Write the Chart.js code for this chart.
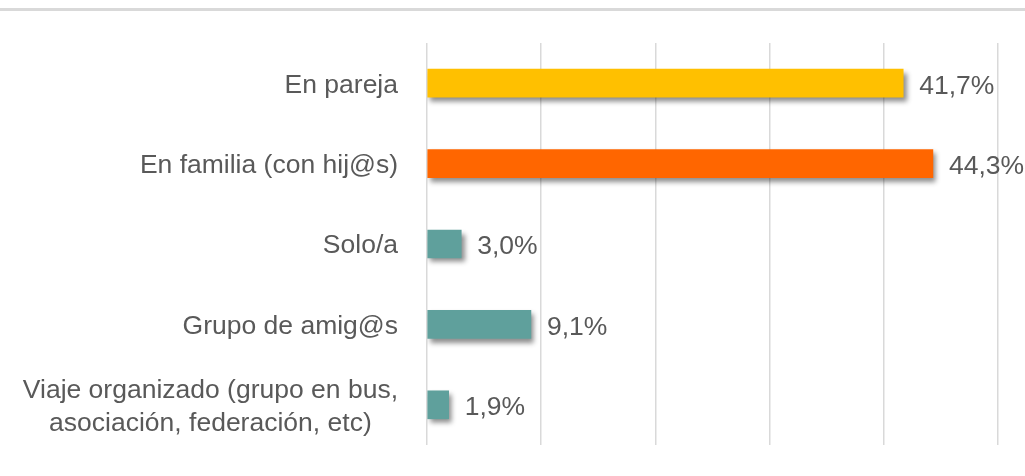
<!DOCTYPE html>
<html>
<head>
<meta charset="utf-8">
<script src="https://cdn.jsdelivr.net/npm/chart.js@4/dist/chart.umd.min.js"></script>
<style>
  html, body { margin: 0; padding: 0; background: #fff; }
  #wrap { width: 1025px; height: 476px; position: relative; }
</style>
</head>
<body>
<div id="wrap"><canvas id="chart" width="1025" height="476"></canvas></div>
<script>
// categories (multi-line labels as arrays)
const categories = [
  ['En pareja'],
  ['En familia (con hij@s)'],
  ['Solo/a'],
  ['Grupo de amig@s'],
  ['Viaje organizado (grupo en bus,', 'asociación, federación, etc)']
];
const values = [41.7, 44.3, 3.0, 9.1, 1.9];
const barColors = ['#FFC000', '#FF6600', '#5FA09C', '#5FA09C', '#5FA09C'];
const xMax = 50;
const xStep = 10;

const FONT = '26.5px "Liberation Sans", Arial, sans-serif';
const TEXT = '#595959';

// top separator line + bar shadows
const decorPlugin = {
  id: 'decor',
  beforeDraw(chart) {
    const ctx = chart.ctx;
    ctx.save();
    ctx.fillStyle = '#d9d9d9';
    ctx.fillRect(0, 8, chart.width, 3);
    ctx.restore();
  },
  beforeDatasetsDraw(chart) {
    const ctx = chart.ctx;
    ctx.save();
    ctx.shadowColor = 'rgba(0,0,0,0.45)';
    ctx.shadowBlur = 5;
    ctx.shadowOffsetX = 3;
    ctx.shadowOffsetY = 4;
  },
  afterDatasetsDraw(chart) {
    chart.ctx.restore();
  }
};

// category labels: block right-aligned to the axis, lines centred inside the block
const labelPlugin = {
  id: 'catLabels',
  afterDraw(chart) {
    const ctx = chart.ctx;
    const yScale = chart.scales.y;
    const right = chart.chartArea.left - 29;
    const lineH = 33;
    ctx.save();
    ctx.font = FONT;
    ctx.fillStyle = TEXT;
    ctx.textBaseline = 'middle';
    categories.forEach((lines, i) => {
      const y = yScale.getPixelForValue(i) + 2;
      const maxW = Math.max(...lines.map(l => ctx.measureText(l).width));
      const cx = right - maxW / 2;
      ctx.textAlign = 'center';
      lines.forEach((l, j) => {
        ctx.fillText(l, cx, y + (j - (lines.length - 1) / 2) * lineH);
      });
    });

    // value labels
    const meta = chart.getDatasetMeta(0);
    ctx.textAlign = 'left';
    meta.data.forEach((bar, i) => {
      const txt = values[i].toFixed(1).replace('.', ',') + '%';
      ctx.fillText(txt, bar.x + 16, bar.y + 3);
    });
    ctx.restore();
  }
};

new Chart(document.getElementById('chart'), {
  type: 'bar',
  data: {
    labels: categories.map(c => c.join(' ')),
    datasets: [{
      data: values,
      backgroundColor: barColors,
      borderWidth: 0,
      barThickness: 28
    }]
  },
  options: {
    indexAxis: 'y',
    responsive: false,
    animation: false,
    layout: { padding: { left: 427, right: 27, top: 43, bottom: 31 } },
    plugins: {
      legend: { display: false },
      tooltip: { enabled: false }
    },
    scales: {
      x: {
        min: 0,
        max: xMax,
        ticks: { display: false, stepSize: xStep },
        grid: { color: '#d9d9d9', lineWidth: 1.5, drawTicks: false },
        border: { display: false }
      },
      y: {
        ticks: { display: false },
        grid: { display: false, drawTicks: false },
        border: { display: false }
      }
    }
  },
  plugins: [decorPlugin, labelPlugin]
});
</script>
</body>
</html>
